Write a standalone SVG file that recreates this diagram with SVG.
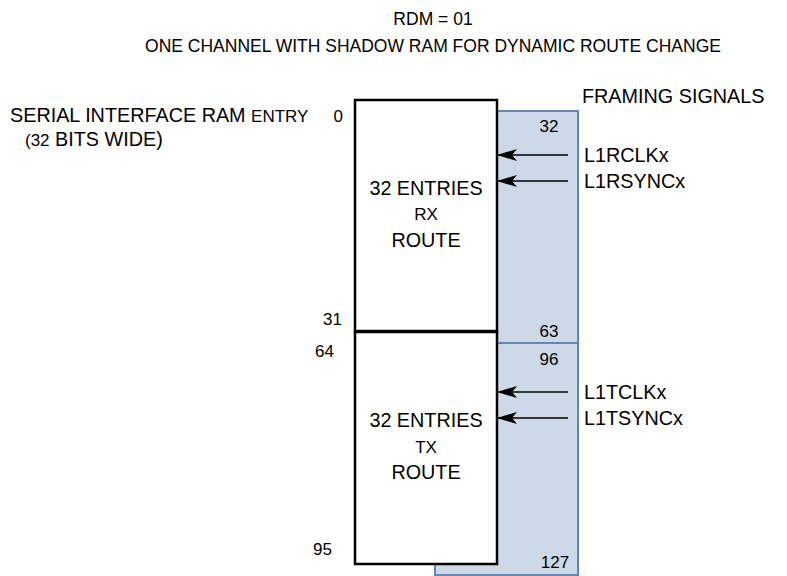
<svg xmlns="http://www.w3.org/2000/svg" width="787" height="576" viewBox="0 0 787 576">
<defs>
<style>
text{font-family:"Liberation Sans",Arial,sans-serif;fill:#000;}
.t{font-size:17.5px;}
.m{font-size:19.8px;}
.s{font-size:17px;}
.n{font-size:17px;}
.c{text-anchor:middle;}
.r{text-anchor:end;}
.blue{fill:#cdd8e8;stroke:#5a87c5;stroke-width:2;}
.box{fill:#fff;stroke:#000;stroke-width:2.5;}
.arr{stroke:#000;stroke-width:1.5;fill:none;marker-end:url(#ah);}
</style>
<marker id="ah" viewBox="0 0 20 12" refX="19" refY="6" markerWidth="20" markerHeight="12" markerUnits="userSpaceOnUse" orient="auto">
<path d="M0,0 L20,6 L0,12 L5,6 Z" fill="#000"/>
</marker>
</defs>
<rect width="787" height="576" fill="#fff"/>
<text class="t c" x="433" y="25">RDM = 01</text>
<text class="t c" x="433" y="52">ONE CHANNEL WITH SHADOW RAM FOR DYNAMIC ROUTE CHANGE</text>
<g id="ram-label">
<text class="m" x="10" y="122">SERIAL INTERFACE RAM <tspan class="s">ENTRY</tspan></text>
<text class="m" x="25" y="146"><tspan class="s">(32</tspan> BITS WIDE)</text>
</g>
<g id="shadow-rx">
<rect class="blue" x="435" y="111" width="143" height="232"/>
<text class="n c" x="549" y="132">32</text>
<text class="n c" x="549" y="337">63</text>
</g>
<g id="shadow-tx">
<rect class="blue" x="435" y="343" width="143" height="232"/>
<text class="n c" x="555" y="568">127</text>
<text class="n c" x="549" y="365">96</text>
</g>
<g id="rx-route">
<rect class="box" x="355" y="100" width="142" height="231"/>
<text class="m c" x="426" y="195">32 ENTRIES</text>
<text class="s c" x="426" y="220">RX</text>
<text class="m c" x="426" y="247">ROUTE</text>
<text class="n r" x="343" y="122">0</text>
<text class="n r" x="342" y="325">31</text>
</g>
<g id="tx-route">
<rect class="box" x="355" y="332" width="142" height="232"/>
<text class="m c" x="426" y="427">32 ENTRIES</text>
<text class="s c" x="426" y="453">TX</text>
<text class="m c" x="426" y="479">ROUTE</text>
<text class="n r" x="334" y="357">64</text>
<text class="n r" x="332" y="555">95</text>
</g>
<g id="framing">
<text class="m" x="582" y="103">FRAMING SIGNALS</text>
<text class="m" x="584" y="162">L1RCLKx</text>
<text class="m" x="584" y="188">L1RSYNCx</text>
<text class="m" x="584" y="399">L1TCLKx</text>
<text class="m" x="584" y="425">L1TSYNCx</text>
</g>
<g id="connectors">
<line class="arr" x1="568" y1="155" x2="498" y2="155"/>
<line class="arr" x1="568" y1="181" x2="498" y2="181"/>
<line class="arr" x1="568" y1="392" x2="498" y2="392"/>
<line class="arr" x1="568" y1="418" x2="498" y2="418"/>
</g>
</svg>
